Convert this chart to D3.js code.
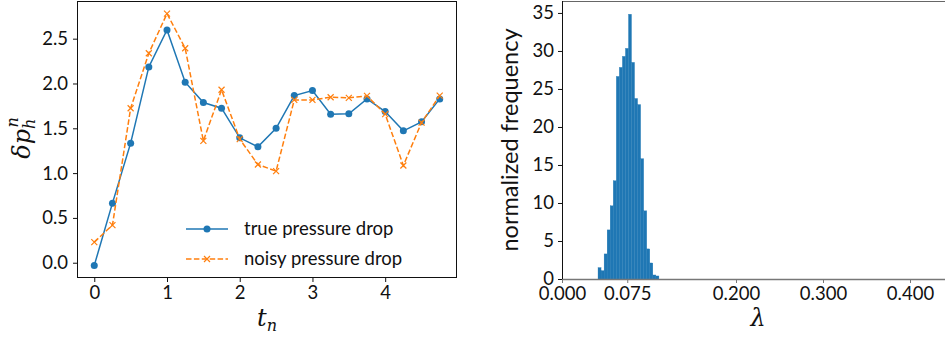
<!DOCTYPE html>
<html>
<head>
<meta charset="utf-8">
<script src="https://cdn.jsdelivr.net/npm/d3@7"></script>
<style>
  body { margin: 0; background: #fff; }
  text { font-family: Lato, "Noto Sans", sans-serif; }
</style>
</head>
<body>
<script>
// left panel: pressure drop over time
var times = [0, 0.25, 0.5, 0.75, 1, 1.25, 1.5, 1.75, 2, 2.25, 2.5, 2.75, 3, 3.25, 3.5, 3.75, 4, 4.25, 4.5, 4.75];
var truePressure = [-0.03, 0.665, 1.334, 2.185, 2.598, 2.015, 1.787, 1.724, 1.394, 1.293, 1.50, 1.865, 1.921, 1.658, 1.661, 1.828, 1.687, 1.472, 1.572, 1.828];
var noisyPressure = [0.23, 0.42, 1.724, 2.338, 2.78, 2.393, 1.36, 1.93, 1.379, 1.096, 1.022, 1.817, 1.817, 1.847, 1.84, 1.862, 1.658, 1.085, 1.564, 1.865];
var leftXTicks = [0, 1, 2, 3, 4];
var leftYTicks = [0, 0.5, 1, 1.5, 2, 2.5];
var legendLabels = ["true pressure drop", "noisy pressure drop"];

// right panel: histogram of lambda
var binStart = 0.0414;
var binWidth = 0.0035;
var binFreq = [1.5, 1.1, 3.3, 6.46, 9.63, 12.93, 26.65, 27.84, 29.29, 30.34, 34.83, 28.5, 23.75, 22.95, 15.83, 8.97, 3.96, 2.11, 0.53, 0.4];
var rightXTicks = [0, 0.075, 0.2, 0.3, 0.4];
var rightYTicks = [0, 5, 10, 15, 20, 25, 30, 35];

var blue = "#1f77b4", orange = "#ff7f0e";
var W = 945, H = 337;

var svg = d3.select("body").append("svg")
    .attr("width", W)
    .attr("height", H);

function pad(ext) {
    var m = (ext[1] - ext[0]) * 0.05;
    return [ext[0] - m, ext[1] + m];
}

// ---------- left ----------
var L = {left: 77, right: 457, top: 1, bottom: 278};
var x1 = d3.scaleLinear().domain(pad(d3.extent(times))).range([L.left, L.right]);
var y1 = d3.scaleLinear().domain(pad(d3.extent(truePressure.concat(noisyPressure)))).range([L.bottom, L.top]);

var gl = svg.append("g");

var xa1 = gl.append("g")
    .attr("transform", "translate(0," + L.bottom + ")")
    .call(d3.axisBottom(x1).tickValues(leftXTicks).tickSize(4).tickPadding(4).tickFormat(d3.format("d")));
var ya1 = gl.append("g")
    .attr("transform", "translate(" + L.left + ",0)")
    .call(d3.axisLeft(y1).tickValues(leftYTicks).tickSize(4).tickPadding(5).tickFormat(d3.format(".1f")));
[xa1, ya1].forEach(function (a) {
    a.select(".domain").remove();
    a.selectAll("text").attr("font-size", 18.5).attr("fill", "#111").style("font-family", "Lato");
    a.selectAll("line").attr("stroke", "#111");
});

var line = d3.line().x(function (d, i) { return x1(times[i]); }).y(function (d) { return y1(d); });

// true series first, noisy on top
gl.append("path")
    .attr("d", line(truePressure))
    .attr("fill", "none")
    .attr("stroke", blue)
    .attr("stroke-width", 1.5);

gl.selectAll(".dot").data(truePressure).enter().append("circle")
    .attr("class", "dot")
    .attr("cx", function (d, i) { return x1(times[i]); })
    .attr("cy", function (d) { return y1(d); })
    .attr("r", 3.5)
    .attr("fill", blue);

gl.append("path")
    .attr("d", line(noisyPressure))
    .attr("fill", "none")
    .attr("stroke", orange)
    .attr("stroke-width", 1.5)
    .attr("stroke-dasharray", "5.5,2.4");

gl.selectAll(".xm").data(noisyPressure).enter().append("path")
    .attr("class", "xm")
    .attr("d", "M-3,-3L3,3M-3,3L3,-3")
    .attr("transform", function (d, i) { return "translate(" + x1(times[i]) + "," + y1(d) + ")"; })
    .attr("stroke", orange)
    .attr("stroke-width", 1.2);

gl.append("rect")
    .attr("x", L.left + 0.5).attr("y", L.top + 0.5)
    .attr("width", L.right - L.left - 1).attr("height", L.bottom - L.top - 1)
    .attr("fill", "none").attr("stroke", "#111").attr("stroke-width", 1);

// legend
var leg = gl.append("g");
legendLabels.forEach(function (lab, i) {
    var yy = 229 + i * 30;
    var ln = leg.append("line")
        .attr("x1", 186).attr("x2", 228).attr("y1", yy).attr("y2", yy)
        .attr("stroke", i === 0 ? blue : orange).attr("stroke-width", 1.5);
    if (i === 0) {
        leg.append("circle").attr("cx", 207).attr("cy", yy).attr("r", 3.5).attr("fill", blue);
    } else {
        ln.attr("stroke-dasharray", "5.5,2.4");
        leg.append("path").attr("d", "M-3,-3L3,3M-3,3L3,-3")
            .attr("transform", "translate(207," + yy + ")")
            .attr("stroke", orange).attr("stroke-width", 1.2);
    }
    leg.append("text")
        .attr("x", 244).attr("y", yy + 6)
        .attr("font-size", 18.5).attr("fill", "#111")
        .text(lab);
});

// axis labels
gl.append("text")
    .attr("x", 267).attr("y", 326)
    .attr("text-anchor", "middle")
    .style("font-family", "'DejaVu Serif', serif")
    .style("font-style", "italic")
    .attr("font-size", 24)
    .attr("fill", "#111")
    .html('t<tspan font-size="16" dy="5">n</tspan>');

var yl = gl.append("text")
    .attr("transform", "translate(30,138) rotate(-90)")
    .attr("text-anchor", "middle")
    .style("font-family", "'DejaVu Serif', serif")
    .style("font-style", "italic")
    .attr("font-size", 24)
    .attr("fill", "#111");
yl.append("tspan").text("δp");
yl.append("tspan").attr("font-size", 16).attr("dy", 5).text("h");
yl.append("tspan").attr("font-size", 16).attr("dx", -9).attr("dy", -17).text("n");

// ---------- right ----------
var R = {left: 562, right: 945, top: 1, bottom: 279};
var x2 = d3.scaleLinear().domain([0, 0.44]).range([R.left, 944.8]);
var y2 = d3.scaleLinear().domain([0, d3.max(binFreq) * 1.05]).range([R.bottom, R.top]);

var gr = svg.append("g");

gr.selectAll(".bar").data(binFreq).enter().append("rect")
    .attr("class", "bar")
    .attr("x", function (d, i) { return x2(binStart + i * binWidth); })
    .attr("width", function (d, i) { return x2(binStart + (i + 1) * binWidth) - x2(binStart + i * binWidth); })
    .attr("y", function (d) { return y2(d); })
    .attr("height", function (d) { return y2(0) - y2(d); })
    .attr("fill", blue)
    .attr("stroke", blue)
    .attr("stroke-width", 0.3);

var xa2 = gr.append("g")
    .attr("transform", "translate(0," + R.bottom + ")")
    .call(d3.axisBottom(x2).tickValues(rightXTicks).tickSize(4).tickPadding(4).tickFormat(d3.format(".3f")));
var ya2 = gr.append("g")
    .attr("transform", "translate(" + R.left + ",0)")
    .call(d3.axisLeft(y2).tickValues(rightYTicks).tickSize(4).tickPadding(4).tickFormat(d3.format("d")));
[xa2, ya2].forEach(function (a) {
    a.select(".domain").remove();
    a.selectAll("text").attr("font-size", 18.5).attr("fill", "#111").style("font-family", "Lato");
});
xa2.selectAll("line").attr("stroke", "#777");
ya2.selectAll("line").attr("stroke", "#111");

gr.append("line").attr("x1", R.left).attr("x2", R.right).attr("y1", R.bottom + 0.5).attr("y2", R.bottom + 0.5)
    .attr("stroke", "#777").attr("stroke-width", 1.5);
gr.append("line").attr("x1", R.left).attr("x2", R.right).attr("y1", R.top + 0.5).attr("y2", R.top + 0.5)
    .attr("stroke", "#666").attr("stroke-width", 1.2);
gr.append("line").attr("x1", R.left + 0.5).attr("x2", R.left + 0.5).attr("y1", R.top).attr("y2", R.bottom)
    .attr("stroke", "#111").attr("stroke-width", 1);

gr.append("text")
    .attr("x", 758).attr("y", 326)
    .attr("text-anchor", "middle")
    .style("font-family", "'DejaVu Serif', serif")
    .style("font-style", "italic")
    .attr("font-size", 24)
    .attr("fill", "#111")
    .text("λ");

gr.append("text")
    .attr("transform", "translate(518,140) rotate(-90)")
    .attr("text-anchor", "middle")
    .attr("font-size", 23.5)
    .attr("fill", "#111")
    .text("normalized frequency");
</script>
</body>
</html>
